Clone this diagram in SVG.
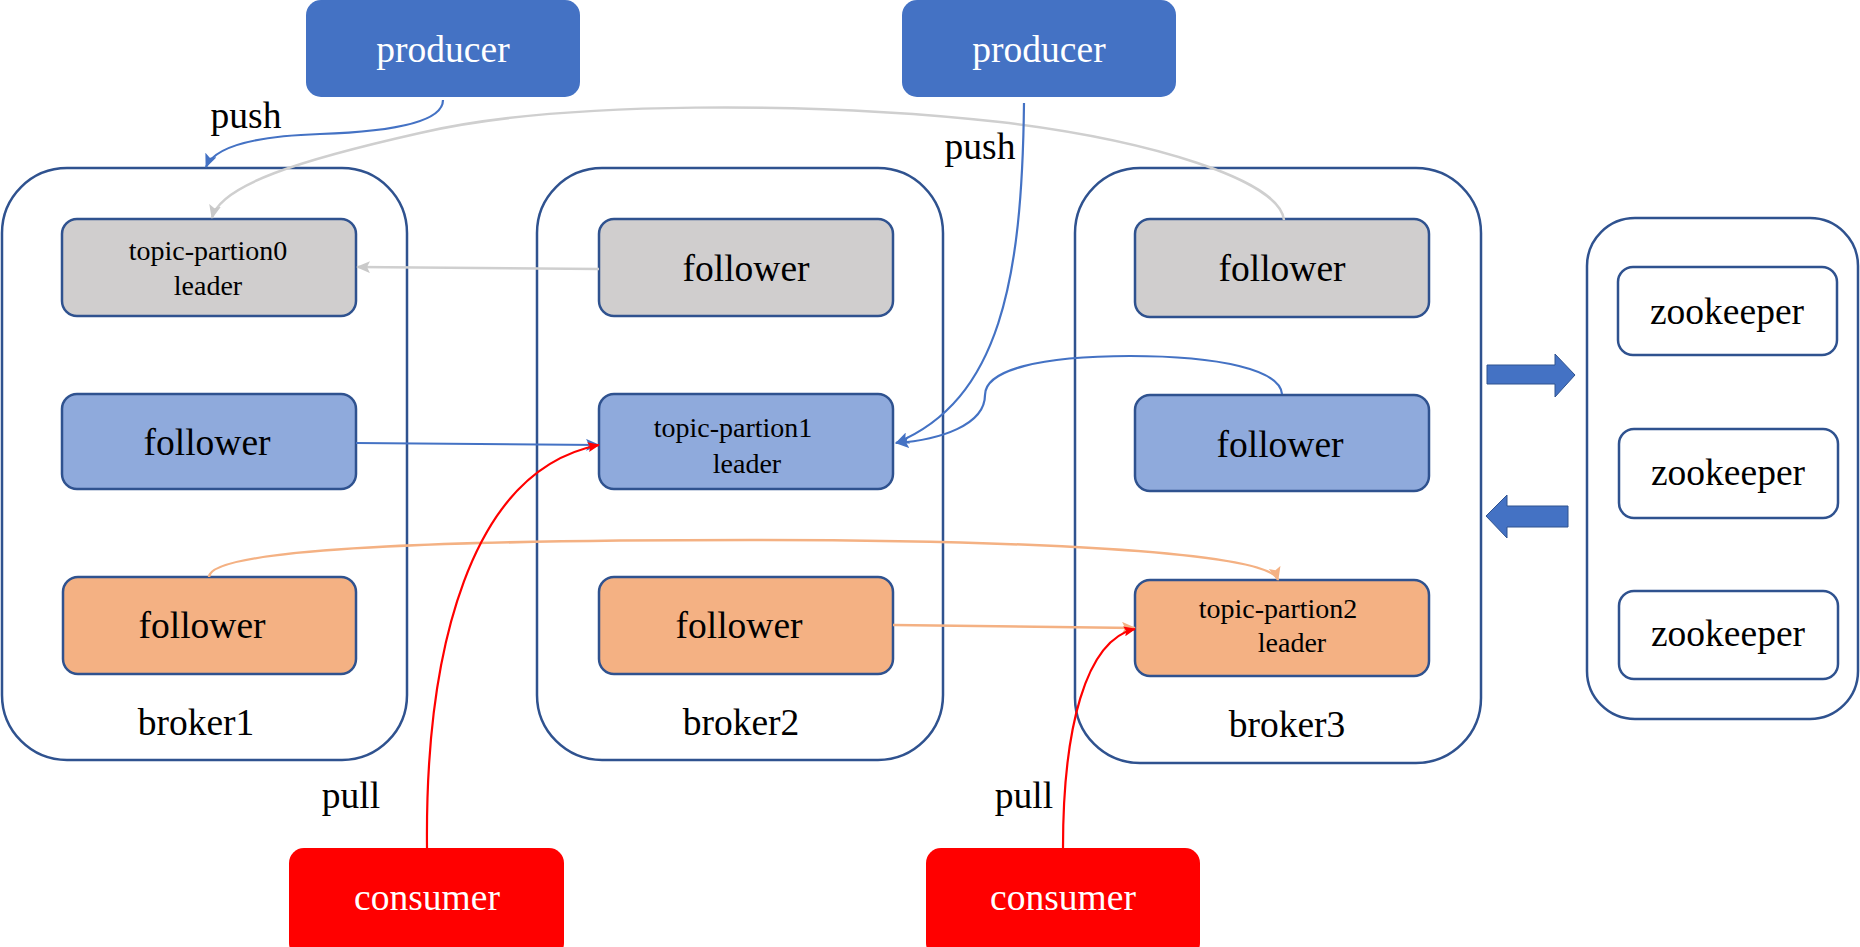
<svg xmlns="http://www.w3.org/2000/svg" width="1860" height="947" viewBox="0 0 1860 947">
<style>
text{font-family:"Liberation Serif","Times New Roman",serif;text-anchor:middle;fill:#000}
.big{font-size:37.5px}
.small{font-size:28px}
.wt{fill:#fff}
.broker{fill:#fff;stroke:#2F528F;stroke-width:2.5}
.node{stroke:#2F528F;stroke-width:2.5}
.grey{fill:#D0CECE}
.blue{fill:#8FAADC}
.orange{fill:#F4B183}
.zk{fill:#fff;stroke:#2F528F;stroke-width:2.5}
.conn{fill:none;stroke-width:2.2}
.cb{stroke:#4472C4}
.cg{stroke:#CFCFCF;stroke-width:2.5}
.co{stroke:#F4B183;stroke-width:2.5}
.cr{stroke:#FF0000}
.bigarrow{fill:#4472C4;stroke:#2F528F;stroke-width:1}
</style>
<defs>
<marker id="ab" markerWidth="14" markerHeight="12" refX="13" refY="6" orient="auto" markerUnits="userSpaceOnUse"><path d="M0,0 L14,6 L0,12 L3,6 Z" fill="#4472C4"/></marker>
<marker id="ag" markerWidth="14" markerHeight="12" refX="13" refY="6" orient="auto" markerUnits="userSpaceOnUse"><path d="M0,0 L14,6 L0,12 L3,6 Z" fill="#C9C9C9"/></marker>
<marker id="ao" markerWidth="14" markerHeight="12" refX="13" refY="6" orient="auto" markerUnits="userSpaceOnUse"><path d="M0,0 L14,6 L0,12 L3,6 Z" fill="#F4B183"/></marker>
<marker id="ar" markerWidth="12" markerHeight="10" refX="11" refY="5" orient="auto" markerUnits="userSpaceOnUse"><path d="M0,0 L12,5 L0,10 L2,5 Z" fill="#FF0000"/></marker>
</defs>

<g id="broker1">
<rect class="broker" x="2" y="168" width="405" height="592" rx="65" ry="65"/>
<text class="big" x="196" y="735">broker1</text>
</g>
<g id="broker2">
<rect class="broker" x="537" y="168" width="406" height="592" rx="65" ry="65"/>
<text class="big" x="741" y="735">broker2</text>
</g>
<g id="broker3">
<rect class="broker" x="1075" y="168" width="406" height="595" rx="65" ry="65"/>
<text class="big" x="1287" y="737">broker3</text>
</g>
<g id="zookeeper-cluster">
<rect class="broker" x="1587" y="218" width="271" height="501" rx="48" ry="48"/>
</g>

<g id="b1-partition0-leader">
<rect class="node grey" x="62" y="219" width="294" height="97" rx="15"/>
<text class="small" x="208" y="260">topic-partion0</text>
<text class="small" x="208" y="295">leader</text>
</g>
<g id="b1-follower-blue">
<rect class="node blue" x="62" y="394" width="294" height="95" rx="15"/>
<text class="big" x="207" y="455">follower</text>
</g>
<g id="b1-follower-orange">
<rect class="node orange" x="63" y="577" width="293" height="97" rx="15"/>
<text class="big" x="202" y="638">follower</text>
</g>

<g id="b2-follower-grey">
<rect class="node grey" x="599" y="219" width="294" height="97" rx="15"/>
<text class="big" x="746" y="281">follower</text>
</g>
<g id="b2-partition1-leader">
<rect class="node blue" x="599" y="394" width="294" height="95" rx="15"/>
<text class="small" x="733" y="437">topic-partion1</text>
<text class="small" x="747" y="473">leader</text>
</g>
<g id="b2-follower-orange">
<rect class="node orange" x="599" y="577" width="294" height="97" rx="15"/>
<text class="big" x="739" y="638">follower</text>
</g>

<g id="b3-follower-grey">
<rect class="node grey" x="1135" y="219" width="294" height="98" rx="15"/>
<text class="big" x="1282" y="281">follower</text>
</g>
<g id="b3-follower-blue">
<rect class="node blue" x="1135" y="395" width="294" height="96" rx="15"/>
<text class="big" x="1280" y="457">follower</text>
</g>
<g id="b3-partition2-leader">
<rect class="node orange" x="1135" y="580" width="294" height="96" rx="15"/>
<text class="small" x="1278" y="618">topic-partion2</text>
<text class="small" x="1292" y="652">leader</text>
</g>

<g id="zookeeper1">
<rect class="zk" x="1618" y="267" width="219" height="88" rx="15"/>
<text class="big" x="1727" y="324">zookeeper</text>
</g>
<g id="zookeeper2">
<rect class="zk" x="1619" y="429" width="219" height="89" rx="15"/>
<text class="big" x="1728" y="485">zookeeper</text>
</g>
<g id="zookeeper3">
<rect class="zk" x="1619" y="591" width="219" height="88" rx="15"/>
<text class="big" x="1728" y="646">zookeeper</text>
</g>

<g id="producer1">
<rect x="306" y="0" width="274" height="97" rx="15" fill="#4472C4"/>
<text class="big wt" x="443" y="62">producer</text>
</g>
<g id="producer2">
<rect x="902" y="0" width="274" height="97" rx="15" fill="#4472C4"/>
<text class="big wt" x="1039" y="62">producer</text>
</g>
<g id="consumer1">
<rect x="289" y="848" width="275" height="110" rx="15" fill="#FF0000"/>
<text class="big wt" x="427" y="910">consumer</text>
</g>
<g id="consumer2">
<rect x="926" y="848" width="274" height="110" rx="15" fill="#FF0000"/>
<text class="big wt" x="1063" y="910">consumer</text>
</g>

<g id="connectors">
<path class="conn cb" d="M443,100 C443,125 380,132 320,134 C260,136 215,145 206,167" marker-end="url(#ab)"/>
<path class="conn cg" d="M1284,220 C1280,180 1150,140 1000,122 C820,102 560,100 420,133 C300,160 220,185 212,218" marker-end="url(#ag)"/>
<path class="conn cg" d="M599,269 L357,267" marker-end="url(#ag)"/>
<path class="conn cb" d="M356,443 L599,445" marker-end="url(#ab)"/>
<path class="conn cb" d="M1024,103 C1022,280 1000,400 896,443" marker-end="url(#ab)"/>
<path class="conn cb" d="M1282,394 C1280,370 1220,356 1130,356 C1040,356 985,370 985,395 C985,425 940,440 896,443" marker-end="url(#ab)"/>
<path class="conn co" d="M209,577 C210,545 500,540 750,540 C1000,540 1270,550 1278,580" marker-end="url(#ao)"/>
<path class="conn co" d="M893,625 L1135,628" marker-end="url(#ao)"/>
<path class="conn cr" d="M427,848 C425,650 470,470 599,445" marker-end="url(#ar)"/>
<path class="conn cr" d="M1063,848 C1063,730 1085,640 1135,629" marker-end="url(#ar)"/>
<path class="bigarrow" d="M1487,365 L1555,365 L1555,354 L1575,375 L1555,397 L1555,384 L1487,384 Z"/>
<path class="bigarrow" d="M1568,506 L1507,506 L1507,495 L1486,516 L1507,538 L1507,527 L1568,527 Z"/>
<text class="big" x="246" y="128">push</text>
<text class="big" x="980" y="159">push</text>
<text class="big" x="351" y="808">pull</text>
<text class="big" x="1024" y="808">pull</text>
</g>
</svg>
